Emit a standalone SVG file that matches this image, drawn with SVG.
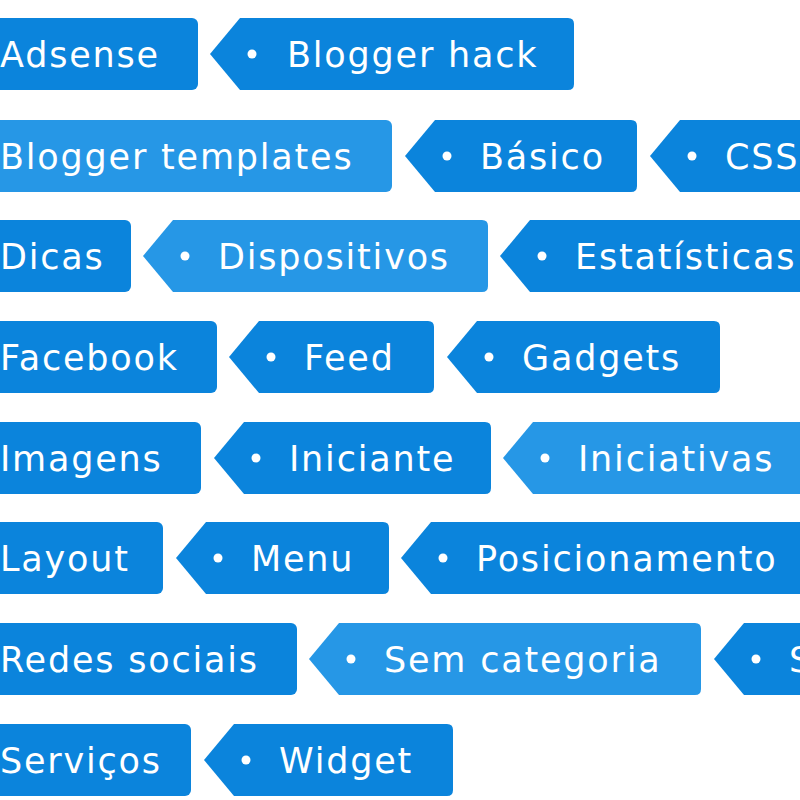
<svg xmlns="http://www.w3.org/2000/svg" width="800" height="800" viewBox="0 0 800 800">
<style>
.t{fill:#0b84dc}.l{fill:#2697e6}
text{font-family:"DejaVu Sans",Verdana,sans-serif;font-size:35px;letter-spacing:1.8px;fill:#fff}
circle{fill:#fff}
</style>
<rect width="800" height="800" fill="#fff"/>
<g id="r1">
<g id="adsense"><rect class="t" x="-40" y="18" width="238" height="72" rx="6"/><text x="0" y="67">Adsense</text></g>
<g id="bloggerhack"><path class="t" d="M210,54 L240,18 H568 Q574,18 574,24 V84 Q574,90 568,90 H240 Z"/><circle cx="252" cy="54" r="4.5"/><text x="287" y="67">Blogger hack</text></g>
</g>
<g id="r2">
<g id="templates"><rect class="l" x="-40" y="120" width="432" height="72" rx="6"/><text x="0" y="169">Blogger templates</text></g>
<g id="basico"><path class="t" d="M405,156 L435,120 H631 Q637,120 637,126 V186 Q637,192 631,192 H435 Z"/><circle cx="447" cy="156" r="4.5"/><text x="480" y="169">Básico</text></g>
<g id="css"><path class="t" d="M650,156 L680,120 H830 V192 H680 Z"/><circle cx="692" cy="156" r="4.5"/><text x="725" y="169">CSS</text></g>
</g>
<g id="r3">
<g id="dicas"><rect class="t" x="-40" y="220" width="171" height="72" rx="6"/><text x="0" y="269">Dicas</text></g>
<g id="dispositivos"><path class="l" d="M143,256 L173,220 H482 Q488,220 488,226 V286 Q488,292 482,292 H173 Z"/><circle cx="185" cy="256" r="4.5"/><text x="218" y="269">Dispositivos</text></g>
<g id="estatisticas"><path class="t" d="M500,256 L530,220 H830 V292 H530 Z"/><circle cx="542" cy="256" r="4.5"/><text x="575" y="269">Estatísticas</text></g>
</g>
<g id="r4">
<g id="facebook"><rect class="t" x="-40" y="321" width="257" height="72" rx="6"/><text x="0" y="370">Facebook</text></g>
<g id="feed"><path class="t" d="M229,357 L259,321 H428 Q434,321 434,327 V387 Q434,393 428,393 H259 Z"/><circle cx="271" cy="357" r="4.5"/><text x="304" y="370">Feed</text></g>
<g id="gadgets"><path class="t" d="M447,357 L477,321 H714 Q720,321 720,327 V387 Q720,393 714,393 H477 Z"/><circle cx="489" cy="357" r="4.5"/><text x="522" y="370">Gadgets</text></g>
</g>
<g id="r5">
<g id="imagens"><rect class="t" x="-40" y="422" width="241" height="72" rx="6"/><text x="0" y="471">Imagens</text></g>
<g id="iniciante"><path class="t" d="M214,458 L244,422 H485 Q491,422 491,428 V488 Q491,494 485,494 H244 Z"/><circle cx="256" cy="458" r="4.5"/><text x="289" y="471">Iniciante</text></g>
<g id="iniciativas"><path class="l" d="M503,458 L533,422 H830 V494 H533 Z"/><circle cx="545" cy="458" r="4.5"/><text x="578" y="471">Iniciativas</text></g>
</g>
<g id="r6">
<g id="layout"><rect class="t" x="-40" y="522" width="203" height="72" rx="6"/><text x="0" y="571">Layout</text></g>
<g id="menu"><path class="t" d="M176,558 L206,522 H383 Q389,522 389,528 V588 Q389,594 383,594 H206 Z"/><circle cx="218" cy="558" r="4.5"/><text x="251" y="571">Menu</text></g>
<g id="posicionamento"><path class="t" d="M401,558 L431,522 H830 V594 H431 Z"/><circle cx="443" cy="558" r="4.5"/><text x="476" y="571">Posicionamento</text></g>
</g>
<g id="r7">
<g id="redes"><rect class="t" x="-40" y="623" width="337" height="72" rx="6"/><text x="0" y="672">Redes sociais</text></g>
<g id="semcat"><path class="l" d="M309,659 L339,623 H695 Q701,623 701,629 V689 Q701,695 695,695 H339 Z"/><circle cx="351" cy="659" r="4.5"/><text x="384" y="672">Sem categoria</text></g>
<g id="s"><path class="t" d="M714,659 L744,623 H830 V695 H744 Z"/><circle cx="756" cy="659" r="4.5"/><text x="789" y="672">S</text></g>
</g>
<g id="r8">
<g id="servicos"><rect class="t" x="-40" y="724" width="231" height="72" rx="6"/><text x="0" y="773">Serviços</text></g>
<g id="widget"><path class="t" d="M204,760 L234,724 H447 Q453,724 453,730 V790 Q453,796 447,796 H234 Z"/><circle cx="246" cy="760" r="4.5"/><text x="279" y="773">Widget</text></g>
</g>
</svg>
